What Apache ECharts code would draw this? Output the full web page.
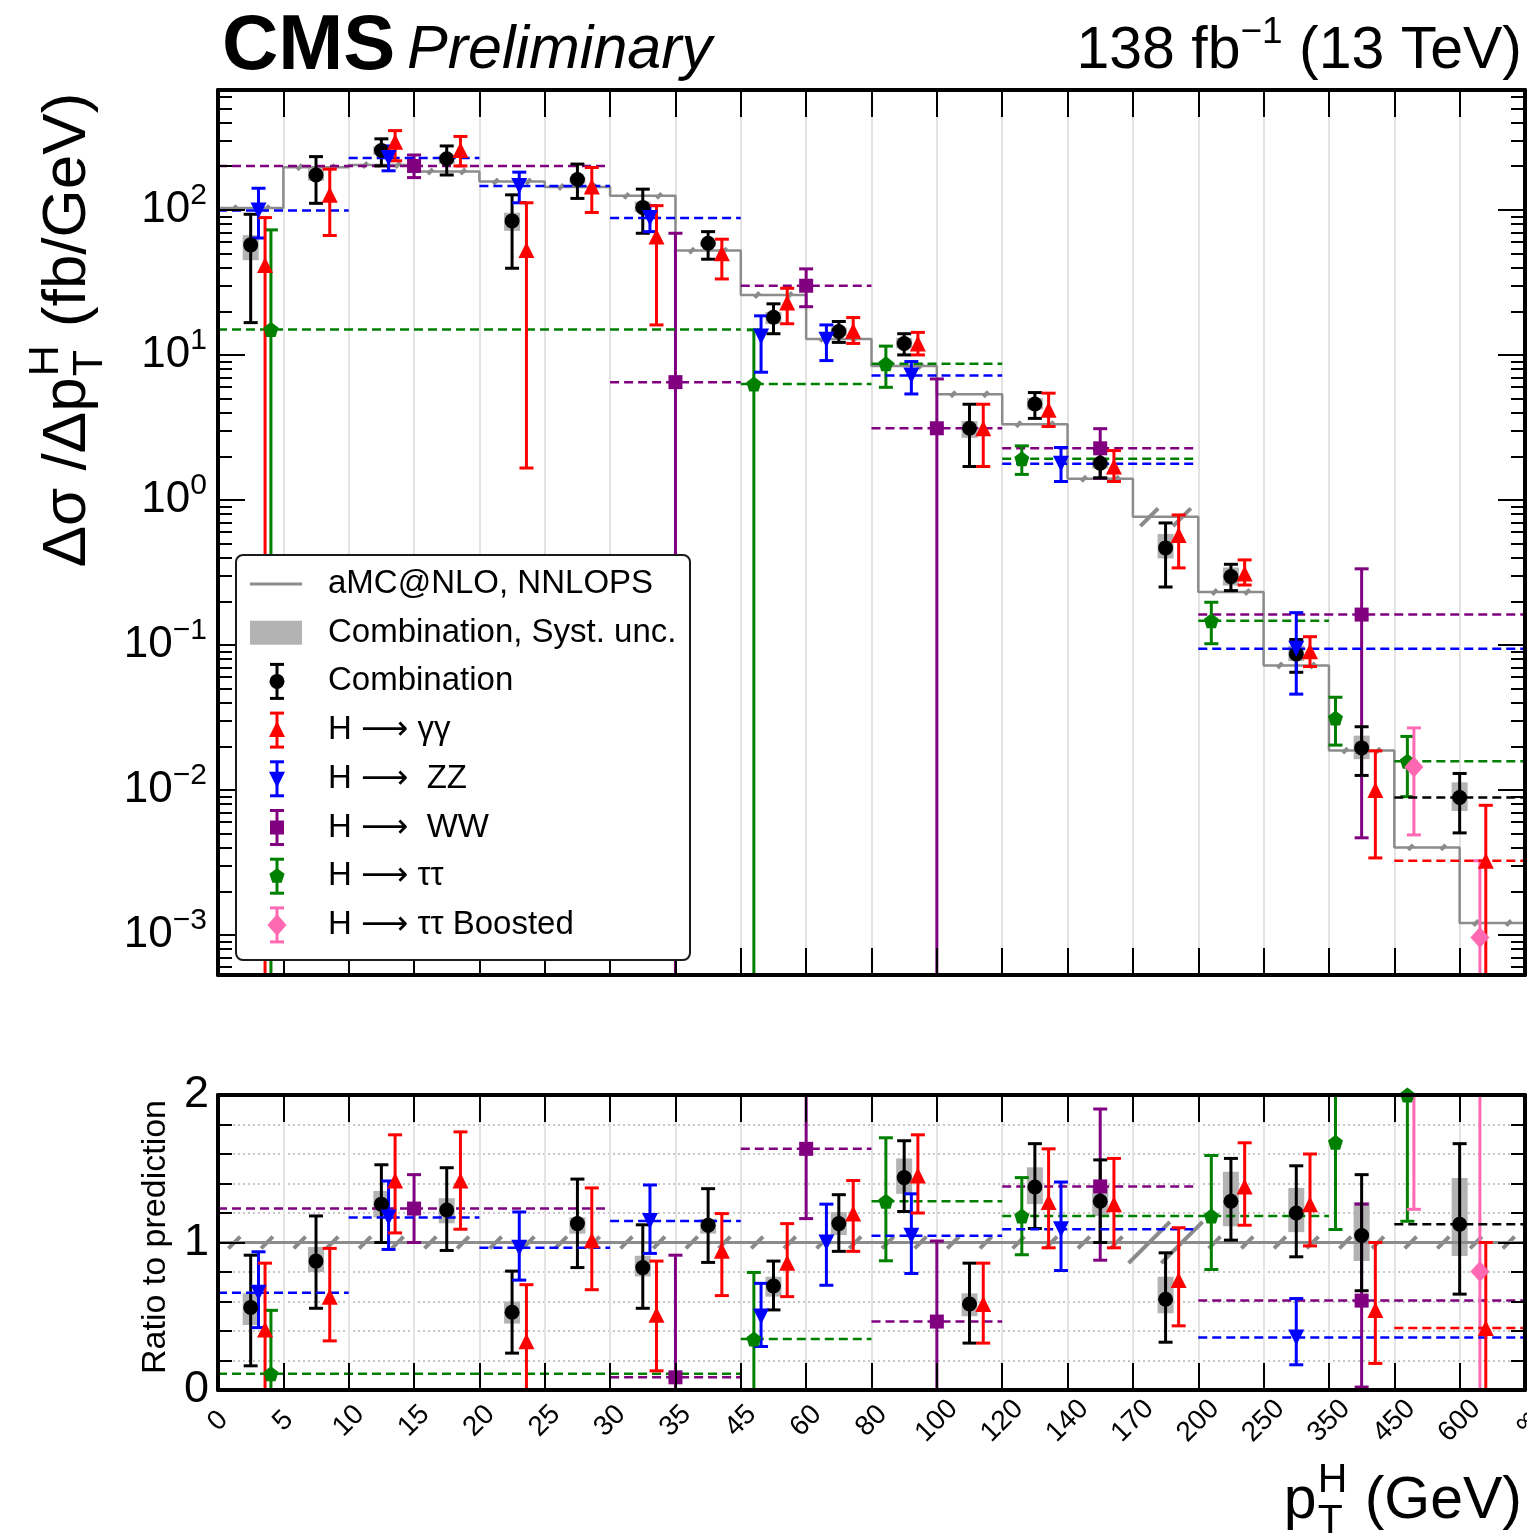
<!DOCTYPE html>
<html><head><meta charset="utf-8">
<script src="https://cdn.jsdelivr.net/npm/echarts@6/dist/echarts.min.js"></script>
<style>html,body{margin:0;padding:0;background:#fff}#chart{width:1527px;height:1539px}</style>
</head><body><div id="chart"></div>
<script>
// ---------------- DATA ----------------
const ptEdges = [0,5,10,15,20,25,30,35,45,60,80,100,120,140,170,200,250,350,450,600,Infinity];
const edgeLabels = ['0','5','10','15','20','25','30','35','45','60','80','100','120','140','170','200','250','350','450','600','∞'];

// Prediction: aMC@NLO, NNLOPS (fb/GeV), one value per pT bin, and its relative uncertainty
const predXsec = [103,197,204,184,157,144,125,52.4,25.9,12.9,8.4,5.36,3.33,1.40,0.767,0.232,0.0723,0.0187,0.00402,0.00121];
const predRelUnc = [0.04,0.04,0.04,0.04,0.04,0.04,0.04,0.04,0.04,0.04,0.04,0.04,0.04,0.04,0.14,0.04,0.04,0.04,0.04,0.04];

const yMajorTicks = [0.001,0.01,0.1,1,10,100];
const ratioLabels = [0,1,2];

// Combination
const combBinLo = [0,5,10,15,20,25,30,35,45,60,80,100,120,140,170,200,250,350,450];
const combBinHi = [5,10,15,20,25,30,35,45,60,80,100,120,140,170,200,250,350,450,Infinity];
const combX = [0.5,1.5,2.5,3.5,4.5,5.5,6.5,7.5,8.5,9.5,10.5,11.5,12.5,13.5,14.5,15.5,16.5,17.5,19.0];
const combVal = [57.4,174,257,225,84,162,104,58.9,18.2,14.5,12.0,3.12,4.59,1.79,0.467,0.296,0.0867,0.0195,0.00887];
const combLow = [16.7,111,201,174,39.6,120,69,45.7,14.0,12.2,10.0,1.70,3.65,1.42,0.251,0.237,0.0648,0.0126,0.00506];
const combHigh = [93.3,233,309,276,127,207,139,70.8,22.5,17.0,14.0,4.57,5.5,2.2,0.694,0.36,0.109,0.0273,0.013];
const combSystLow = [45,159,239,208,71.7,152,96.5,55.9,16.3,13.5,11.1,2.68,4.2,1.65,0.395,0.257,0.0773,0.0163,0.00716];
const combSystHigh = [67,193,275,240,95.6,168,114,61.2,19.8,15.5,13.1,3.5,5.04,1.93,0.583,0.342,0.099,0.0237,0.0113];
const combRatio = [0.56,0.874,1.26,1.22,0.527,1.128,0.83,1.117,0.705,1.128,1.44,0.583,1.376,1.28,0.615,1.28,1.2,1.047,1.124];
const combRatioLow = [0.164,0.554,1.0,0.946,0.25,0.83,0.554,0.865,0.543,0.94,1.21,0.318,1.095,1.0,0.324,1.016,0.903,0.673,0.65];
const combRatioHigh = [0.914,1.18,1.527,1.507,0.806,1.43,1.12,1.365,0.874,1.324,1.69,0.86,1.67,1.56,0.93,1.57,1.52,1.46,1.67];
const combRatioSystLow = [0.44,0.80,1.17,1.13,0.45,1.06,0.77,1.06,0.633,1.05,1.33,0.50,1.26,1.18,0.52,1.11,1.07,0.874,0.908];
const combRatioSystHigh = [0.655,0.97,1.35,1.30,0.60,1.17,0.91,1.16,0.768,1.207,1.57,0.655,1.51,1.38,0.768,1.48,1.37,1.275,1.437];

// H -> gamma gamma
const ggBinLo = [0,5,10,15,20,25,30,35,45,60,80,100,120,140,170,200,250,350,450];
const ggBinHi = [5,10,15,20,25,30,35,45,60,80,100,120,140,170,200,250,350,450,Infinity];
const ggX = [0.72,1.71,2.71,3.71,4.72,5.72,6.71,7.71,8.71,9.72,10.71,11.71,12.71,13.71,14.7,15.71,16.71,17.71,19.4];
const ggVal = [41.7,127,295,259,53,145,65.5,50.2,23.0,14.7,12.0,3.12,4.18,1.70,0.574,0.311,0.0904,0.0100,0.00325];
const ggLow = [0,66.6,218,201,1.66,96,16.1,33.4,16.4,12.0,10.0,1.70,3.21,1.34,0.34,0.259,0.071,0.0034,0];
const ggHigh = [88.5,191,352,321,112,196,107,62.8,28.8,18.1,14.3,4.57,5.45,2.19,0.788,0.386,0.114,0.0186,0.00784];
const ggRatio = [0.41,0.633,1.42,1.42,0.33,1.016,0.51,0.944,0.862,1.196,1.455,0.583,1.275,1.26,0.745,1.38,1.26,0.543,0.42];
const ggRatioLow = [-0.5,0.333,1.065,1.09,-0.5,0.68,0.13,0.64,0.633,0.94,1.2,0.318,0.964,0.964,0.435,1.117,0.977,0.18,-0.5];
const ggRatioHigh = [0.86,0.96,1.73,1.75,0.714,1.37,0.874,1.196,1.128,1.42,1.73,0.86,1.635,1.57,1.1,1.676,1.6,1.0,1.0];

// H -> ZZ
const zzBinLo = [0,10,20,30,45,60,80,120,200];
const zzBinHi = [10,20,30,45,60,80,120,200,Infinity];
const zzX = [0.62,2.61,4.61,6.61,8.31,9.31,10.61,12.9,16.5];
const zzVal = [99,228,146,88,13.4,12.7,7.2,1.78,0.094];
const zzLow = [64,186,112,70.8,7.6,9.14,5.38,1.34,0.0458];
const zzHigh = [141,276,182,107,18.6,16.1,9.0,2.3,0.167];
const zzRatio = [0.66,1.17,0.964,1.146,0.498,1.0,1.045,1.09,0.356];
const zzRatioLow = [0.423,0.953,0.745,0.926,0.295,0.71,0.79,0.81,0.171];
const zzRatioHigh = [0.937,1.417,1.207,1.39,0.723,1.26,1.33,1.41,0.62];

// H -> WW
const wwBinLo = [0,30,45,80,120,200];
const wwBinHi = [30,45,80,120,200,Infinity];
const wwX = [3,7,9,11,13.5,17.5];
const wwVal = [201,6.49,30.0,3.12,2.27,0.162];
const wwLow = [167,0,21.5,0,1.41,0.00468];
const wwHigh = [239,69,39.2,6.83,3.1,0.335];
const wwRatio = [1.23,0.086,1.635,0.464,1.38,0.606];
const wwRatioLow = [1.0,-0.5,1.162,-0.5,0.88,0.02];
const wwRatioHigh = [1.46,0.914,2.3,1.01,1.905,1.26];

// H -> tau tau
const ttBinLo = [0,45,80,120,200,350,450];
const ttBinHi = [45,80,120,200,350,450,Infinity];
const ttX = [0.81,8.2,10.22,12.3,15.2,17.1,18.2];
const ttVal = [15.0,6.31,8.7,1.92,0.147,0.0314,0.0158];
const ttLow = [0,0,5.98,1.50,0.102,0.0204,0.009];
const ttHigh = [72.8,14.9,11.5,2.36,0.197,0.0436,0.0234];
const ttRatio = [0.11,0.345,1.28,1.18,1.18,1.68,2.0];
const ttRatioLow = [-0.5,-0.5,0.876,0.917,0.817,1.088,1.144];
const ttRatioHigh = [0.54,0.797,1.71,1.44,1.59,2.33,2.9];

// H -> tau tau boosted
const tbBinLo = [450,600];
const tbBinHi = [600,Infinity];
const tbX = [18.3,19.31];
const tbVal = [0.0144,0.00096];
const tbLow = [0.0049,0];
const tbHigh = [0.0268,0.00325];
const tbRatio = [3.6,0.804];
const tbRatioLow = [1.225,-0.5];
const tbRatioHigh = [6.7,2.7];

const legendLabels = ['aMC@NLO, NNLOPS','Combination, Syst. unc.','Combination','H ⟶ γγ','H ⟶  ZZ','H ⟶  WW','H ⟶ ττ','H ⟶ ττ Boosted'];

// ---------------- RENDER ----------------
const FONT = '"Liberation Sans", Arial, Helvetica, sans-serif';
const FONT_SYM = '"Liberation Sans", "DejaVu Sans", sans-serif';
const Y_MIN = 5.3e-4, Y_MAX = 671;
const edgeIdx = v => ptEdges.indexOf(v);
const edgePositions = ptEdges.map((_, i) => i);

const channels = [
  {color:'#800080', symbol:'rect', size:14, rot:0, lo:wwBinLo, hi:wwBinHi, x:wwX, v:wwVal, l:wwLow, h:wwHigh, r:wwRatio, rl:wwRatioLow, rh:wwRatioHigh},
  {color:'#008000', symbol:'path://M0,-1L0.951,-0.309L0.588,0.809L-0.588,0.809L-0.951,-0.309Z', size:15, rot:0, lo:ttBinLo, hi:ttBinHi, x:ttX, v:ttVal, l:ttLow, h:ttHigh, r:ttRatio, rl:ttRatioLow, rh:ttRatioHigh},
  {color:'#ff69b4', symbol:'diamond', size:[19,21], rot:0, lo:tbBinLo, hi:tbBinHi, x:tbX, v:tbVal, l:tbLow, h:tbHigh, r:tbRatio, rl:tbRatioLow, rh:tbRatioHigh},
  {color:'#000000', symbol:'circle', size:15, rot:0, lo:combBinLo, hi:combBinHi, x:combX, v:combVal, l:combLow, h:combHigh, r:combRatio, rl:combRatioLow, rh:combRatioHigh},
  {color:'#0000ff', symbol:'triangle', size:16, rot:180, lo:zzBinLo, hi:zzBinHi, x:zzX, v:zzVal, l:zzLow, h:zzHigh, r:zzRatio, rl:zzRatioLow, rh:zzRatioHigh},
  {color:'#ff0000', symbol:'triangle', size:16, rot:0, lo:ggBinLo, hi:ggBinHi, x:ggX, v:ggVal, l:ggLow, h:ggHigh, r:ggRatio, rl:ggRatioLow, rh:ggRatioHigh}
];

function errSeries(ch, top) {
  const data = ch.x.map((x, i) => [x, top ? ch.v[i] : ch.r[i], top ? ch.l[i] : ch.rl[i], top ? ch.h[i] : ch.rh[i], edgeIdx(ch.lo[i]), edgeIdx(ch.hi[i])]);
  return {
    type:'custom', xAxisIndex: top ? 0 : 3, yAxisIndex: top ? 0 : 4, clip:true, silent:true, z:5,
    encode:{x:0, y:1}, data,
    renderItem: (params, api) => {
      const f = y => top ? Math.max(y, 1e-9) : y;
      const x = api.value(0), v = api.value(1), lo = api.value(2), hi = api.value(3), b0 = api.value(4), b1 = api.value(5);
      const c = api.coord([x, f(v)]), cl = api.coord([x, f(lo)]), chh = api.coord([x, f(hi)]);
      const kids = [];
      if (b1 - b0 > 1) {
        const a = api.coord([b0, f(v)]), b = api.coord([b1, f(v)]);
        kids.push({type:'line', shape:{x1:a[0], y1:a[1], x2:b[0], y2:b[1]}, style:{stroke:ch.color, lineWidth:2.5, lineDash:[9,5]}});
      }
      const st = {stroke:ch.color, lineWidth:3};
      kids.push({type:'line', shape:{x1:c[0], y1:cl[1], x2:c[0], y2:chh[1]}, style:st});
      kids.push({type:'line', shape:{x1:c[0]-7, y1:cl[1], x2:c[0]+7, y2:cl[1]}, style:st});
      kids.push({type:'line', shape:{x1:c[0]-7, y1:chh[1], x2:c[0]+7, y2:chh[1]}, style:st});
      return {type:'group', children:kids};
    }
  };
}
function markerSeries(ch, top) {
  return {
    type:'scatter', xAxisIndex: top ? 0 : 3, yAxisIndex: top ? 0 : 4, clip:true, silent:true, z:5,
    symbol:ch.symbol, symbolSize:ch.size, symbolRotate:ch.rot,
    itemStyle:{color:ch.color, opacity:1},
    data: ch.x.map((x, i) => [x, top ? ch.v[i] : ch.r[i]])
  };
}
function systSeries(top) {
  return {
    type:'custom', xAxisIndex: top ? 0 : 3, yAxisIndex: top ? 0 : 4, clip:true, silent:true, z:3,
    encode:{x:0, y:1},
    data: combX.map((x, i) => [x, top ? combSystLow[i] : combRatioSystLow[i], top ? combSystHigh[i] : combRatioSystHigh[i]]),
    renderItem: (params, api) => {
      const a = api.coord([api.value(0), api.value(1)]), b = api.coord([api.value(0), api.value(2)]);
      return {type:'rect', shape:{x:a[0]-8, y:b[1], width:16, height:a[1]-b[1]}, style:{fill:'#b3b3b3'}};
    }
  };
}
function hatchSeries(top) {
  return {
    type:'custom', xAxisIndex: top ? 0 : 3, yAxisIndex: top ? 0 : 4, clip:true, silent:true, z:4,
    encode:{x:0, y:1},
    data: predXsec.map((p, i) => [i, top ? p : 1, predRelUnc[i]]),
    renderItem: (params, api) => {
      const i = api.value(0), yv = api.value(1), u = api.value(2);
      const t = api.coord([i, yv*(1+u)]), b = api.coord([i+1, yv*(1-u)]);
      const x0 = api.coord([i, yv])[0], x1 = api.coord([i+1, yv])[0];
      const h = b[1] - t[1], w = x1 - x0;
      return {type:'group', children:[0.25, 0.75].map(fr => {
        const cx = x0 + fr*w;
        return {type:'line', shape:{x1:cx-h/2, y1:b[1], x2:cx+h/2, y2:t[1]}, style:{stroke:'#8a8a8a', lineWidth:4}};
      })};
    }
  };
}

const series = [];
[true, false].forEach(top => {
  series.push(systSeries(top));
  series.push({
    type:'line', xAxisIndex: top ? 0 : 3, yAxisIndex: top ? 0 : 4, step: top ? 'end' : false, clip:true, silent:true, z:4,
    symbol:'none', lineStyle:{color:'#8c8c8c', width: top ? 2.5 : 3},
    data: top ? predXsec.map((p, i) => [i, p]).concat([[20, predXsec[19]]]) : [[0,1],[20,1]]
  });
  series.push(hatchSeries(top));
  channels.forEach(ch => { series.push(errSeries(ch, top)); series.push(markerSeries(ch, top)); });
});

// axes
const minorLog = [];
for (let k = -4; k <= 2; k++) for (let m = 2; m <= 9; m++) { const v = m*Math.pow(10,k); if (v > Y_MIN && v < Y_MAX) minorLog.push(v); }
const ratioMinor = [0.2,0.4,0.6,0.8,1.2,1.4,1.6,1.8];
const line4 = {show:true, onZero:false, lineStyle:{color:'#000', width:4}};
const noLine = {show:false, onZero:false};
const tickSt = {color:'#000', width:2};

function xFrame(gi, pos, labels) {
  return {type:'value', gridIndex:gi, position:pos, min:0, max:20, interval:1, z:10,
    axisLine:line4,
    axisTick:{show:true, inside:true, length:27, lineStyle:tickSt, customValues:edgePositions},
    axisLabel: labels ? {show:true, rotate:45, fontSize:28, fontFamily:FONT, color:'#000', margin:31,
      align:'center', verticalAlign:'middle',
      customValues:edgePositions, formatter: v => edgeLabels[Math.round(v)]} : {show:false},
    splitLine:{show:false}};
}
function xGridLines(gi) {
  return {type:'value', gridIndex:gi, position:'bottom', min:0, max:20, interval:1, z:0,
    axisLine:noLine, axisTick:{show:false}, axisLabel:{show:false},
    splitLine:{show:true, lineStyle:{color:'#e3e3e3', width:2}}};
}
function yLog(pos, major, labels) {
  return {type:'log', logBase:10, gridIndex:0, position:pos, min:Y_MIN, max:Y_MAX, z:10,
    axisLine: major ? line4 : noLine,
    axisTick:{show:true, inside:true, length: major ? 27 : 14, lineStyle:tickSt, customValues: major ? yMajorTicks : minorLog},
    axisLabel: labels ? {show:true, customValues:yMajorTicks, margin:11,
      formatter: v => { const e = Math.round(Math.log10(v)); return '{b|10}{s|' + (e < 0 ? '−' + (-e) : e) + '}'; },
      rich:{b:{fontSize:44, fontFamily:FONT, color:'#000', verticalAlign:'middle'},
            s:{fontSize:30, fontFamily:FONT, color:'#000', verticalAlign:'middle', padding:[0,0,28,0]}}} : {show:false},
    splitLine:{show:false}};
}
function yRatio(pos, major, labels) {
  return {type:'value', gridIndex:1, position:pos, min:0, max:2, z:10,
    axisLine: major ? line4 : noLine,
    axisTick:{show:true, inside:true, length: major ? 27 : 14, lineStyle:tickSt, customValues: major ? ratioLabels : ratioMinor},
    axisLabel: labels ? {show:true, customValues:ratioLabels, fontSize:45, fontFamily:FONT, color:'#000', margin:9} : {show:false},
    splitLine:{show:false}};
}

// graphics
const mctx = document.createElement('canvas').getContext('2d');
function tw(str, size, weight, style, fam) { mctx.font = (style||'normal') + ' ' + (weight||'normal') + ' ' + size + 'px ' + (fam||FONT); return mctx.measureText(str).width; }
function T(str, x, baseline, size, o) {
  o = o || {};
  return {type:'text', x:x, y: baseline - 0.35*size, z:100, silent:true,
    style:{text:str, fontSize:size, fontFamily:o.fam||FONT, fontWeight:o.weight||'normal', fontStyle:o.style||'normal',
      fill:'#000', align:o.align||'left', textAlign:o.align||'left', verticalAlign:'middle', textVerticalAlign:'middle'}};
}
const graphics = [];
graphics.push(T('CMS', 222, 75, 78, {weight:'bold'}));
graphics.push(T('Preliminary', 407, 72, 61, {style:'italic'}));
(function(){
  const F = 59, s = 37;
  const w1 = tw('138 fb', F), w2 = tw('−1', s), w3 = tw(' (13 TeV)', F);
  const x0 = 1522 - (w1 + w2 + w3);
  graphics.push(T('138 fb', x0, 72, F));
  graphics.push(T('−1', x0 + w1, 46, s));
  graphics.push(T(' (13 TeV)', x0 + w1 + w2, 72, F));
})();
// y title
(function(){
  const F = 62, s = 43;
  const w0 = tw('Δσ /Δp', F), ws = Math.max(tw('H', s), tw('T', s)) + 2, w2 = tw(' (fb/GeV)', F);
  const W = w0 + ws + w2;
  graphics.push({type:'group', x:90, y:330 + W/2, rotation:Math.PI/2, children:[
    T('Δσ /Δp', 0, 0, F), T('H', w0 + 1, -0.46*F, s), T('T', w0 + 1, 0.24*F, s), T(' (fb/GeV)', w0 + ws, 0, F)
  ]});
})();
// x title
(function(){
  const F = 59, s = 41;
  const w0 = tw('p', F), ws = Math.max(tw('H', s), tw('T', s)) + 2, w2 = tw(' (GeV)', F);
  const x0 = 1522 - (w0 + ws + w2), b = 1522;
  graphics.push(T('p', x0, b, F));
  graphics.push(T('H', x0 + w0 + 1, b - 0.46*F, s));
  graphics.push(T('T', x0 + w0 + 1, b + 0.24*F, s));
  graphics.push(T(' (GeV)', x0 + w0 + ws, b, F));
})();
// ratio title
(function(){
  const F = 34, W = tw('Ratio to prediction', F);
  graphics.push({type:'group', x:168, y:1237 + W/2, rotation:Math.PI/2, children:[T('Ratio to prediction', 0, 0, F)]});
})();
// legend
(function(){
  graphics.push({type:'rect', z:90, silent:true, shape:{x:236, y:555, width:454, height:405, r:7}, style:{fill:'#fff', stroke:'#1a1a1a', lineWidth:2}});
  const cx = 277, tx = 328, rows = legendLabels.map((_, k) => 584 + 48.7*k);
  graphics.push({type:'line', z:95, silent:true, shape:{x1:250, y1:rows[0], x2:302, y2:rows[0]}, style:{stroke:'#8c8c8c', lineWidth:3}});
  graphics.push({type:'rect', z:95, silent:true, shape:{x:250, y:rows[1]-12, width:52, height:24}, style:{fill:'#b3b3b3'}});
  const syms = [
    {c:'#000000', t:'circle'}, {c:'#ff0000', t:'up'}, {c:'#0000ff', t:'down'},
    {c:'#800080', t:'square'}, {c:'#008000', t:'pent'}, {c:'#ff69b4', t:'diam'}
  ];
  syms.forEach((s, k) => {
    const y = rows[k+2], st = {stroke:s.c, lineWidth:3};
    graphics.push({type:'line', z:95, silent:true, shape:{x1:cx, y1:y-17, x2:cx, y2:y+17}, style:st});
    graphics.push({type:'line', z:95, silent:true, shape:{x1:cx-7, y1:y-17, x2:cx+7, y2:y-17}, style:st});
    graphics.push({type:'line', z:95, silent:true, shape:{x1:cx-7, y1:y+17, x2:cx+7, y2:y+17}, style:st});
    let shp;
    if (s.t === 'circle') shp = {type:'circle', shape:{cx:cx, cy:y, r:7.5}};
    else if (s.t === 'up') shp = {type:'polygon', shape:{points:[[cx,y-9],[cx+8,y+7],[cx-8,y+7]]}};
    else if (s.t === 'down') shp = {type:'polygon', shape:{points:[[cx,y+9],[cx+8,y-7],[cx-8,y-7]]}};
    else if (s.t === 'square') shp = {type:'rect', shape:{x:cx-7, y:y-7, width:14, height:14}};
    else if (s.t === 'pent') shp = {type:'polygon', shape:{points:[[cx,y-8],[cx+7.6,y-2.5],[cx+4.7,y+6.5],[cx-4.7,y+6.5],[cx-7.6,y-2.5]]}};
    else shp = {type:'polygon', shape:{points:[[cx,y-11],[cx+9.5,y],[cx,y+11],[cx-9.5,y]]}};
    shp.z = 96; shp.silent = true; shp.style = {fill:s.c};
    graphics.push(shp);
  });
  legendLabels.forEach((lab, k) => graphics.push(T(lab, tx, rows[k] + 11.5, 33, {fam:FONT_SYM})));
})();

const option = {
  animation:false,
  backgroundColor:'#ffffff',
  grid:[
    {left:218, top:90, width:1307, height:885, containLabel:false, outerBoundsMode:'none', show:false},
    {left:218, top:1095, width:1307, height:295, containLabel:false, outerBoundsMode:'none', show:false}
  ],
  xAxis:[
    xFrame(0, 'bottom', false), xFrame(0, 'top', false), xGridLines(0),
    xFrame(1, 'bottom', true), xFrame(1, 'top', false), xGridLines(1)
  ],
  yAxis:[
    yLog('left', true, true), yLog('left', false, false), yLog('right', true, false), yLog('right', false, false),
    yRatio('left', true, true), yRatio('left', false, false), yRatio('right', true, false), yRatio('right', false, false),
    {type:'value', gridIndex:1, position:'left', min:0, max:2, interval:0.2, z:0, axisLine:noLine, axisTick:{show:false}, axisLabel:{show:false},
     splitLine:{show:true, lineStyle:{color:'#b5b5b5', width:1.5, type:[2,3]}}}
  ],
  graphic: graphics,
  series: series
};
const chart = echarts.init(document.getElementById('chart'), null, {renderer:'canvas'});
chart.setOption(option);
</script></body></html>
